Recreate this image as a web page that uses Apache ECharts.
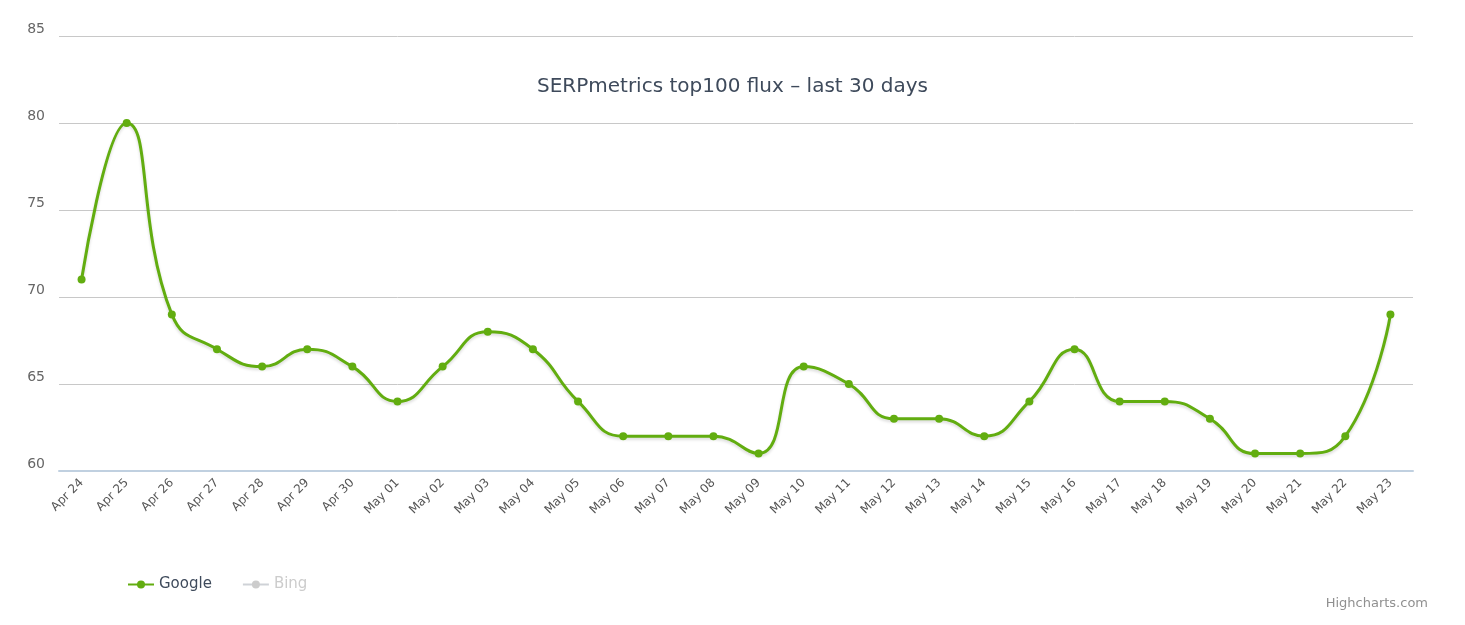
<!DOCTYPE html>
<html><head><meta charset="utf-8">
<script src="https://cdn.jsdelivr.net/npm/echarts@6/dist/echarts.min.js"></script>
<style>html,body{margin:0;padding:0;background:#fff}#c{width:1465px;height:625px}</style>
</head><body><div id="c"></div>
<script>
const categories = ["Apr 24","Apr 25","Apr 26","Apr 27","Apr 28","Apr 29","Apr 30","May 01","May 02","May 03","May 04","May 05","May 06","May 07","May 08","May 09","May 10","May 11","May 12","May 13","May 14","May 15","May 16","May 17","May 18","May 19","May 20","May 21","May 22","May 23"];
const google = [71,80,69,67,66,67,66,64,66,68,67,64,62,62,62,61,66,65,63,63,62,64,67,64,64,63,61,61,62,69];
const bing = [];
const F = 'DejaVu Sans';
const chart = echarts.init(document.getElementById('c'));
chart.setOption({
  animation:false,
  title:{text:'SERPmetrics top100 flux – last 30 days',left:'center',top:72,textStyle:{fontFamily:F,fontSize:20,fontWeight:'normal',color:'#3e4a5b'}},
  grid:{left:59,right:52,top:36,bottom:154},
  legend:{left:122,bottom:28,itemWidth:26,itemHeight:10,itemGap:30,textStyle:{fontFamily:F,fontSize:15,color:'#3e4a5b'},inactiveColor:'#cccccc',selected:{Google:true,Bing:false},data:['Google','Bing']},
  graphic:[{type:'text',right:37,bottom:15,style:{text:'Highcharts.com',fill:'#909090',font:'13px "DejaVu Sans"'}}],
  xAxis:{type:'category',data:categories,boundaryGap:true,
    axisLine:{lineStyle:{color:'#c0d0e0',width:2}},axisTick:{length:8,lineStyle:{color:'#c0d0e0'}},
    axisLabel:{rotate:45,color:'#555',fontFamily:F,fontSize:12,margin:10}},
  yAxis:{type:'value',min:60,max:85,interval:5,
    axisLabel:{color:'#666',fontFamily:F,fontSize:14,margin:14,verticalAlign:'bottom'},
    splitLine:{lineStyle:{color:'#c8c8c8',width:1}},axisLine:{show:false}},
  series:[
    {name:'Google',type:'line',data:google,smooth:0.5,color:'#62ad10',symbol:'circle',symbolSize:8,
      lineStyle:{width:3,shadowColor:'rgba(0,0,0,0.15)',shadowBlur:3,shadowOffsetY:2}},
    {name:'Bing',type:'line',data:bing,color:'#cccccc',symbol:'circle',symbolSize:8}
  ]
});
</script></body></html>
